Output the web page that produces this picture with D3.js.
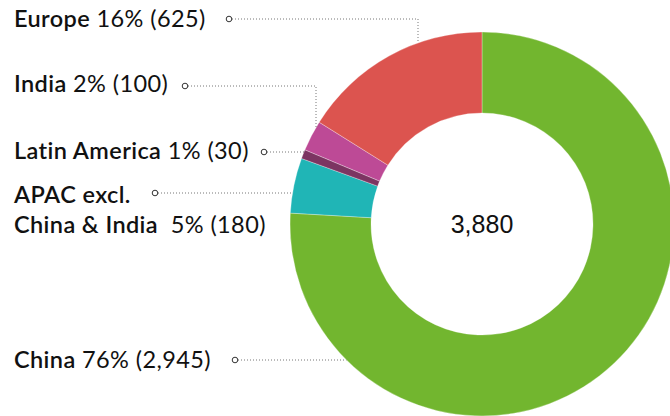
<!DOCTYPE html>
<html><head><meta charset="utf-8">
<script src="https://cdn.jsdelivr.net/npm/d3@7"></script>
<style>body{margin:0;background:#fff}svg{display:block}</style>
</head><body><div id="c"></div>
<script>
const regions = ["China","APAC excl. China & India","Latin America","India","Europe"];
const values = [2945,180,30,100,625];
const percents = ["76%","5%","1%","2%","16%"];
const valueLabels = ["2,945","180","30","100","625"];
const colors = ["#72b62f","#20b5b6","#7c3562","#bd4a96","#dc544f"];
const totalLabel = "3,880";

const W=670,H=416, cx=482, cy=224, R=192, r=111;
const svg=d3.select("#c").append("svg").attr("width",W).attr("height",H);
const g=svg.append("g").attr("transform",`translate(${cx},${cy})`);
const pie=d3.pie().sort(null).value(d=>d)(values);
const arc=d3.arc().innerRadius(r).outerRadius(R);
g.selectAll("path").data(pie).join("path").attr("d",arc)
  .attr("fill",(d,i)=>colors[i]).attr("stroke","#fff").attr("stroke-width",0.3);

g.append("text").attr("text-anchor","middle").attr("dy","0.35em")
  .style("font-family","'Liberation Sans',Arial,sans-serif").style("font-size","25px").attr("fill","#111")
  .text(totalLabel);

// label layout
const layout = [
  {i:0, lines:["China"], y:368, dx:235, dy:360, ex:null},
  {i:1, lines:["APAC excl.","China & India "], y:202.5, dx:155, dy:193, ex:null},
  {i:2, lines:["Latin America"], y:159, dx:264, dy:152, ex:null},
  {i:3, lines:["India"], y:92, dx:185, dy:86, ex:316},
  {i:4, lines:["Europe"], y:27, dx:229, dy:19, ex:418}
];
const font="Lato,'Open Sans',sans-serif";
layout.forEach(L=>{
  const t=svg.append("text").attr("x",14).attr("y",L.y).style("font-family",font)
    .style("font-size","23.5px").style("letter-spacing","0.4px").style("white-space","pre").attr("fill","#111");
  L.lines.forEach((ln,k)=>{
    const last = k===L.lines.length-1;
    t.append("tspan").attr("x",14).attr("y",L.y+k*30).style("font-weight",600).text(ln);
    if(last){
      t.append("tspan").style("font-weight",400).text(" "+percents[L.i]+" ("+valueLabels[L.i]+")");
    }
  });
  let pts;
  if(L.ex===null){
    const ddy=L.dy-cy;
    const xe=cx-Math.sqrt(R*R-ddy*ddy);
    pts=[[L.dx,L.dy],[xe,L.dy]];
  } else {
    const ddx=L.ex-cx;
    const ye=cy-Math.sqrt(R*R-ddx*ddx);
    pts=[[L.dx,L.dy],[L.ex,L.dy],[L.ex,ye]];
  }
  svg.append("path").attr("d",d3.line()(pts)).attr("fill","none")
    .attr("stroke","#777").attr("stroke-width",1).attr("stroke-dasharray","1,2");
  svg.append("circle").attr("cx",L.dx).attr("cy",L.dy).attr("r",2.8)
    .attr("fill","#fff").attr("stroke","#333").attr("stroke-width",1);
});
</script></body></html>
